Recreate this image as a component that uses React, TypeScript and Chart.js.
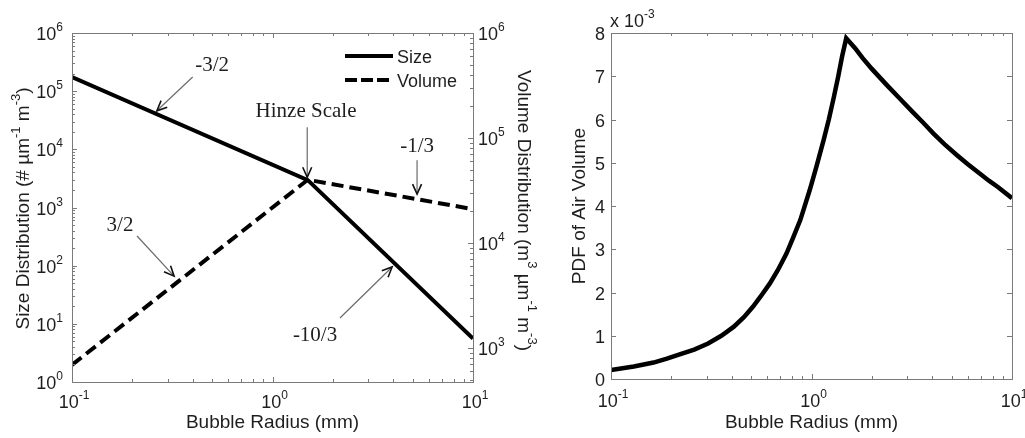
import React, { useEffect, useRef } from 'react';
import { Chart, registerables } from 'chart.js';

Chart.register(...registerables);

// ---------- data (left panel) ----------
const radiusSize = [0.1, 1.5, 10];
const sizeDist = [1.75e5, 2.95e3, 5.6];
const radiusVolume = [0.1, 1.5, 10];
const volumeDist = [690, 4.0e4, 2.1e4];

// ---------- data (right panel) ----------
const radiusPdf = [0.1, 0.13, 0.163, 0.19, 0.22, 0.26, 0.305, 0.355, 0.41, 0.46, 0.51, 0.56, 0.62, 0.68, 0.75, 0.81, 0.88, 0.98, 1.06, 1.15, 1.22, 1.29, 1.36, 1.42, 1.49, 1.65, 1.8, 2.0, 2.37, 2.8, 3.2, 3.6, 4.05, 4.6, 5.3, 6.0, 6.9, 7.7, 8.5, 10];
const pdfAirVolume = [0.21e-3, 0.29e-3, 0.38e-3, 0.47e-3, 0.57e-3, 0.68e-3, 0.82e-3, 1.0e-3, 1.21e-3, 1.43e-3, 1.67e-3, 1.92e-3, 2.21e-3, 2.52e-3, 2.9e-3, 3.27e-3, 3.68e-3, 4.37e-3, 4.92e-3, 5.53e-3, 6.0e-3, 6.5e-3, 7.0e-3, 7.45e-3, 7.88e-3, 7.65e-3, 7.42e-3, 7.17e-3, 6.8e-3, 6.45e-3, 6.17e-3, 5.93e-3, 5.68e-3, 5.43e-3, 5.18e-3, 4.97e-3, 4.75e-3, 4.58e-3, 4.44e-3, 4.18e-3];

// ---------- tick labels / text ----------
const xTickValues = [0.1, 1, 10];
const xTickExps = ['-1', '0', '1'];
const leftYTickValues = [1, 10, 100, 1e3, 1e4, 1e5, 1e6];
const leftYTickExps = ['0', '1', '2', '3', '4', '5', '6'];
const rightYTickValues = [1e3, 1e4, 1e5, 1e6];
const rightYTickExps = ['3', '4', '5', '6'];
const pdfTickValues = [0, 1, 2, 3, 4, 5, 6, 7, 8];
const legendLabels = ['Size', 'Volume'];
const xTitle = 'Bubble Radius (mm)';
const pdfTitle = 'PDF of Air Volume';

// annotations (data coordinates of the left panel; y on the left axis)
const annotationTexts = ['-3/2', 'Hinze Scale', '-1/3', '3/2', '-10/3'];
const annotationTextX = [0.5, 1.47, 5.26, 0.1735, 1.63];
const annotationTextY = [2.8e5, 4.4e4, 1.14e4, 500, 6.4];
const arrowFromX = [0.40, 1.49, 5.26, 0.211, 2.17];
const arrowFromY = [1.75e5, 2.4e4, 6.5e3, 324, 12.6];
const arrowToX = [0.265, 1.49, 5.26, 0.323, 3.95];
const arrowToY = [4.6e4, 3.3e3, 1.7e3, 66, 95];

const SANS = '"Liberation Sans", Arial, sans-serif';
const SERIF = '"Liberation Serif", "Times New Roman", serif';
const AXIS = '#7a7a7a';
const TEXT = '#1e1e1e';

type Seg = { t: string; sup?: boolean };

function segFont(size: number, sup?: boolean) {
  return `${sup ? Math.round(size * 0.66) : size}px ${SANS}`;
}
function richWidth(ctx: CanvasRenderingContext2D, segs: Seg[], size: number) {
  let w = 0;
  for (const s of segs) {
    ctx.font = segFont(size, s.sup);
    w += ctx.measureText(s.t).width;
  }
  return w;
}
function drawRich(ctx: CanvasRenderingContext2D, segs: Seg[], x: number, y: number, size: number, align: 'left' | 'center' | 'right') {
  const w = richWidth(ctx, segs, size);
  let cx = align === 'left' ? x : align === 'center' ? x - w / 2 : x - w;
  ctx.textAlign = 'left';
  ctx.textBaseline = 'alphabetic';
  ctx.fillStyle = TEXT;
  for (const s of segs) {
    ctx.font = segFont(size, s.sup);
    ctx.fillText(s.t, cx, s.sup ? y - size * 0.5 : y);
    cx += ctx.measureText(s.t).width;
  }
}
function pow10(exp: string): Seg[] {
  return [{ t: '10' }, { t: exp, sup: true }];
}

function logMinors(min: number, max: number) {
  const out: number[] = [];
  for (let d = Math.floor(Math.log10(min)); d < Math.ceil(Math.log10(max)); d++) {
    for (let k = 2; k <= 9; k++) {
      const v = k * Math.pow(10, d);
      if (v > min && v < max) out.push(v);
    }
  }
  return out;
}

function drawBox(ctx: CanvasRenderingContext2D, a: any) {
  ctx.save();
  ctx.strokeStyle = AXIS;
  ctx.lineWidth = 1;
  ctx.strokeRect(Math.round(a.left) + 0.5, Math.round(a.top) + 0.5, Math.round(a.right - a.left), Math.round(a.bottom - a.top));
  ctx.restore();
}

function vTicks(ctx: CanvasRenderingContext2D, a: any, px: number, len: number) {
  const x = Math.round(px) + 0.5;
  ctx.beginPath();
  ctx.moveTo(x, a.bottom);
  ctx.lineTo(x, a.bottom - len);
  ctx.moveTo(x, a.top);
  ctx.lineTo(x, a.top + len);
  ctx.stroke();
}
function hTick(ctx: CanvasRenderingContext2D, x0: number, py: number, len: number) {
  const y = Math.round(py) + 0.5;
  ctx.beginPath();
  ctx.moveTo(x0, y);
  ctx.lineTo(x0 + len, y);
  ctx.stroke();
}

function drawArrow(ctx: CanvasRenderingContext2D, x0: number, y0: number, x1: number, y1: number) {
  ctx.save();
  ctx.strokeStyle = '#6a6a6a';
  ctx.lineWidth = 1.2;
  ctx.beginPath();
  ctx.moveTo(x0, y0);
  ctx.lineTo(x1, y1);
  ctx.stroke();
  const ang = Math.atan2(y1 - y0, x1 - x0);
  const L = 11;
  const spread = 0.42;
  ctx.strokeStyle = '#111';
  ctx.lineWidth = 1.6;
  ctx.beginPath();
  ctx.moveTo(x1 - L * Math.cos(ang - spread), y1 - L * Math.sin(ang - spread));
  ctx.lineTo(x1, y1);
  ctx.lineTo(x1 - L * Math.cos(ang + spread), y1 - L * Math.sin(ang + spread));
  ctx.stroke();
  ctx.restore();
}

const leftPlugin = {
  id: 'leftDecor',
  afterDraw(chart: any) {
    const ctx: CanvasRenderingContext2D = chart.ctx;
    const a = chart.chartArea;
    const sx = chart.scales.x;
    const sy = chart.scales.y;
    const sy2 = chart.scales.y2;
    ctx.save();
    drawBox(ctx, a);
    ctx.strokeStyle = AXIS;
    ctx.lineWidth = 1;
    // x ticks
    for (const v of xTickValues) vTicks(ctx, a, sx.getPixelForValue(v), 5);
    for (const v of logMinors(0.1, 10)) vTicks(ctx, a, sx.getPixelForValue(v), 3);
    // left y ticks
    for (const v of leftYTickValues) hTick(ctx, a.left, sy.getPixelForValue(v), 5);
    for (const v of logMinors(1, 1e6)) hTick(ctx, a.left, sy.getPixelForValue(v), 3);
    // right y ticks
    for (const v of rightYTickValues) hTick(ctx, a.right, sy2.getPixelForValue(v), -5);
    for (const v of logMinors(474, 1e6)) hTick(ctx, a.right, sy2.getPixelForValue(v), -3);

    // tick labels
    xTickValues.forEach((v, i) => drawRich(ctx, pow10(xTickExps[i]), sx.getPixelForValue(v) + 2, a.bottom + 26, 18, 'center'));
    leftYTickValues.forEach((v, i) => drawRich(ctx, pow10(leftYTickExps[i]), a.left - 9, sy.getPixelForValue(v) + 7, 18, 'right'));
    rightYTickValues.forEach((v, i) => drawRich(ctx, pow10(rightYTickExps[i]), a.right + 5, sy2.getPixelForValue(v) + 7, 18, 'left'));

    // titles
    drawRich(ctx, [{ t: xTitle }], (a.left + a.right) / 2, a.bottom + 46, 19, 'center');
    ctx.save();
    ctx.translate(29, (a.top + a.bottom) / 2 + 1);
    ctx.rotate(-Math.PI / 2);
    drawRich(ctx, [{ t: 'Size Distribution (# \u00b5m' }, { t: '-1', sup: true }, { t: ' m' }, { t: '-3', sup: true }, { t: ')' }], 0, 0, 19, 'center');
    ctx.restore();
    ctx.save();
    ctx.translate(a.right + 45, (a.top + a.bottom) / 2 + 3);
    ctx.rotate(Math.PI / 2);
    drawRich(ctx, [{ t: 'Volume Distribution (m' }, { t: '3', sup: true }, { t: ' \u00b5m' }, { t: '-1', sup: true }, { t: ' m' }, { t: '-3', sup: true }, { t: ')' }], 0, 0, 19, 'center');
    ctx.restore();

    // legend
    const lx0 = a.right - 128;
    const lx1 = a.right - 80;
    const rows = [a.top + 23, a.top + 47];
    ctx.strokeStyle = '#000';
    ctx.lineWidth = 4;
    rows.forEach((ry, i) => {
      ctx.setLineDash(i === 0 ? [] : [12, 4]);
      ctx.beginPath();
      ctx.moveTo(lx0, ry);
      ctx.lineTo(lx1, ry);
      ctx.stroke();
      ctx.setLineDash([]);
      drawRich(ctx, [{ t: legendLabels[i] }], lx1 + 4, ry + 6.5, 18, 'left');
    });

    // annotations
    annotationTexts.forEach((t, i) => {
      ctx.font = `21px ${SERIF}`;
      ctx.fillStyle = TEXT;
      ctx.textAlign = 'center';
      ctx.textBaseline = 'middle';
      ctx.fillText(t, sx.getPixelForValue(annotationTextX[i]), sy.getPixelForValue(annotationTextY[i]));
      drawArrow(ctx, sx.getPixelForValue(arrowFromX[i]), sy.getPixelForValue(arrowFromY[i]), sx.getPixelForValue(arrowToX[i]), sy.getPixelForValue(arrowToY[i]));
    });
    ctx.restore();
  },
};

const rightPlugin = {
  id: 'rightDecor',
  afterDraw(chart: any) {
    const ctx: CanvasRenderingContext2D = chart.ctx;
    const a = chart.chartArea;
    const sx = chart.scales.x;
    const sy = chart.scales.y;
    ctx.save();
    drawBox(ctx, a);
    ctx.strokeStyle = AXIS;
    ctx.lineWidth = 1;
    for (const v of xTickValues) vTicks(ctx, a, sx.getPixelForValue(v), 5);
    for (const v of logMinors(0.1, 10)) vTicks(ctx, a, sx.getPixelForValue(v), 3);
    for (const v of pdfTickValues) {
      const py = sy.getPixelForValue(v * 1e-3);
      hTick(ctx, a.left, py, 5);
      hTick(ctx, a.right, py, -5);
    }
    xTickValues.forEach((v, i) => drawRich(ctx, pow10(xTickExps[i]), sx.getPixelForValue(v) + 2, a.bottom + 28, 18, 'center'));
    pdfTickValues.forEach((v) => drawRich(ctx, [{ t: String(v) }], a.left - 6, sy.getPixelForValue(v * 1e-3) + 7, 18, 'right'));
    drawRich(ctx, [{ t: 'x 10' }, { t: '-3', sup: true }], a.left - 1, a.top - 6, 18, 'left');
    drawRich(ctx, [{ t: xTitle }], (a.left + a.right) / 2, a.bottom + 49, 19, 'center');
    ctx.save();
    ctx.translate(a.left - 26, (a.top + a.bottom) / 2);
    ctx.rotate(-Math.PI / 2);
    drawRich(ctx, [{ t: pdfTitle }], 0, 0, 19, 'center');
    ctx.restore();
    ctx.restore();
  },
};

export default function App() {
  const leftRef = useRef<HTMLCanvasElement | null>(null);
  const rightRef = useRef<HTMLCanvasElement | null>(null);

  useEffect(() => {
    const left = new Chart(leftRef.current as HTMLCanvasElement, {
      type: 'line',
      data: {
        datasets: [
          {
            label: legendLabels[0],
            data: radiusSize.map((r, i) => ({ x: r, y: sizeDist[i] })),
            borderColor: '#000',
            borderWidth: 4,
            pointRadius: 0,
            tension: 0,
            yAxisID: 'y',
          },
          {
            label: legendLabels[1],
            data: radiusVolume.map((r, i) => ({ x: r, y: volumeDist[i] })),
            borderColor: '#000',
            borderWidth: 4,
            borderDash: [12, 6],
            pointRadius: 0,
            tension: 0,
            yAxisID: 'y2',
          },
        ],
      },
      options: {
        responsive: false,
        animation: false,
        devicePixelRatio: 1,
        layout: { padding: { left: 72, top: 33, right: 72, bottom: 56 } },
        scales: {
          x: { type: 'logarithmic', min: 0.1, max: 10, display: false },
          y: { type: 'logarithmic', min: 1, max: 1e6, display: false },
          y2: { type: 'logarithmic', position: 'right', min: 474, max: 1e6, display: false },
        },
        plugins: { legend: { display: false }, tooltip: { enabled: false } },
      },
      plugins: [leftPlugin],
    } as any);

    const right = new Chart(rightRef.current as HTMLCanvasElement, {
      type: 'line',
      data: {
        datasets: [
          {
            label: pdfTitle,
            data: radiusPdf.map((r, i) => ({ x: r, y: pdfAirVolume[i] })),
            borderColor: '#000',
            borderWidth: 4.5,
            pointRadius: 0,
            tension: 0,
          },
        ],
      },
      options: {
        responsive: false,
        animation: false,
        devicePixelRatio: 1,
        layout: { padding: { left: 66, top: 33, right: 13, bottom: 59 } },
        scales: {
          x: { type: 'logarithmic', min: 0.1, max: 10, display: false },
          y: { type: 'linear', min: 0, max: 0.008, display: false },
        },
        plugins: { legend: { display: false }, tooltip: { enabled: false } },
      },
      plugins: [rightPlugin],
    } as any);

    return () => {
      left.destroy();
      right.destroy();
    };
  }, []);

  return (
    <div style={{ position: 'absolute', left: 0, top: 0, width: 1025, height: 438, background: '#fff' }}>
      <canvas ref={leftRef} width={545} height={438} style={{ position: 'absolute', left: 0, top: 0 }} />
      <canvas ref={rightRef} width={480} height={438} style={{ position: 'absolute', left: 545, top: 0 }} />
    </div>
  );
}
